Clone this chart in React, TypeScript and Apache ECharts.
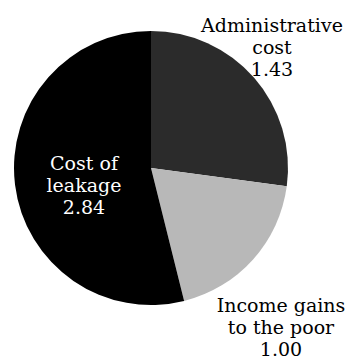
import React, { useEffect, useRef } from "react";
import * as echarts from "echarts";

const names = ["Administrative\ncost", "Income gains\nto the poor", "Cost of\nleakage"];
const values = [1.43, 1.0, 2.84];
const colors = ["#2b2b2b", "#b8b8b8", "#000000"];
const labelColors = ["#000000", "#000000", "#ffffff"];

export default function App() {
  const ref = useRef<HTMLDivElement>(null);
  useEffect(() => {
    if (!ref.current) return;
    const chart = echarts.init(ref.current, undefined, { renderer: "svg" });
    const labelPos = [
      { x: 272, y: 47 },
      { x: 281, y: 327 },
      { x: 84, y: 185 },
    ];
    chart.setOption({
      animation: false,
      backgroundColor: "#ffffff",
      series: [
        {
          type: "pie",
          center: [151, 168],
          radius: [0, 137],
          startAngle: 90,
          clockwise: true,
          avoidLabelOverlap: false,
          label: {
            show: true,
            position: "outside",
            fontFamily: "DejaVu Serif",
            fontSize: 19,
            lineHeight: 22,
            align: "center",
            formatter: (p: any) => p.name + "\n" + Number(p.value).toFixed(2),
          },
          labelLine: { show: false },
          labelLayout: (p: any) => ({
            x: labelPos[p.dataIndex].x,
            y: labelPos[p.dataIndex].y,
            align: "center",
            verticalAlign: "middle",
            hideOverlap: false,
          }),
          emphasis: { disabled: true },
          data: names.map((n, i) => ({
            name: n,
            value: values[i],
            itemStyle: { color: colors[i] },
            label: { color: labelColors[i] },
          })),
        },
      ],
    });
    return () => chart.dispose();
  }, []);
  return (
    <div
      ref={ref}
      style={{ position: "fixed", left: 0, top: 0, width: 359, height: 360 }}
    />
  );
}
